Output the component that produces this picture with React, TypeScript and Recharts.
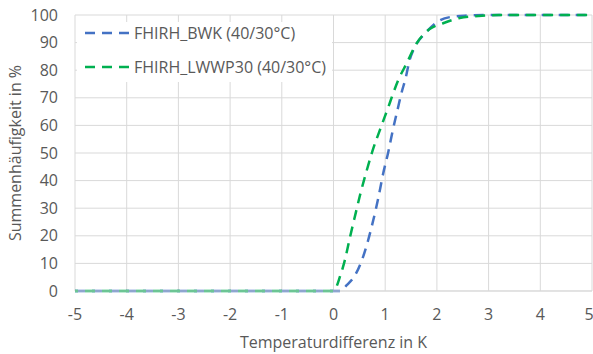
import React from 'react';
import { LineChart, Line, XAxis, YAxis, CartesianGrid, Legend } from 'recharts';

const blueX = [-5, 0, 0.13, 0.26, 0.42, 0.55, 0.67, 0.77, 0.87, 0.96, 1.06, 1.15, 1.25, 1.31, 1.4, 1.47, 1.57, 1.79, 2.05, 2.31, 2.6, 3, 5];
const blueY = [0, 0, 0, 2.2, 5.8, 11.2, 18.4, 25.7, 34, 42.5, 50.4, 58.5, 66.6, 71.4, 77.5, 83.5, 88.3, 93.7, 98, 99.4, 99.8, 100, 100];

const greenX = [-5, 0, 0.13, 0.22, 0.32, 0.42, 0.51, 0.64, 0.75, 0.93, 1.06, 1.15, 1.25, 1.41, 1.6, 1.86, 2.12, 2.44, 2.8, 3.2, 5];
const greenY = [0, 0, 5.5, 11.2, 19.6, 27.5, 34.5, 43.5, 50.5, 60, 66.6, 71.4, 76.3, 82.3, 89.5, 94.9, 97, 98.9, 99.6, 100, 100];

const xTicks = [-5, -4, -3, -2, -1, 0, 1, 2, 3, 4, 5];
const yTicks = [0, 10, 20, 30, 40, 50, 60, 70, 80, 90, 100];

const seriesNames = ['FHIRH_BWK (40/30°C)', 'FHIRH_LWWP30 (40/30°C)'];
const seriesColors = ['#4472C4', '#00B050'];

const blueData = blueX.map((x, i) => ({ x, y: blueY[i] }));
const greenData = greenX.map((x, i) => ({ x, y: greenY[i] }));

const FONT = '"Open Sans", sans-serif';
const FS = 16;
const TXT = '#595959';

const renderLegend = () => (
  <div style={{ position: 'relative', background: '#fff', width: 255, height: 60, fontFamily: FONT, fontSize: FS, color: TXT }}>
    {seriesNames.map((n, i) => (
      <div key={n} style={{ position: 'absolute', left: 0, top: i === 0 ? 0 : 34, height: 22, display: 'flex', alignItems: 'center', whiteSpace: 'nowrap' }}>
        <svg width={54} height={22} style={{ display: 'block' }}>
          <line x1={8} y1={11} x2={53} y2={11} stroke={seriesColors[i]} strokeWidth={2.5} strokeDasharray="10 7" />
        </svg>
        <span style={{ marginLeft: 3 }}>{n}</span>
      </div>
    ))}
  </div>
);

export default function App() {
  return (
    <div style={{ position: 'absolute', left: 0, top: 0, width: 593, height: 354, background: '#fff' }}>
      <LineChart width={593} height={354} margin={{ top: 15, right: 1, left: 0, bottom: 0 }}>
        <CartesianGrid stroke="#d9d9d9" strokeWidth={1} />
        <XAxis
          type="number"
          dataKey="x"
          domain={[-5, 5]}
          ticks={xTicks}
          allowDataOverflow
          height={63}
          tickLine={false}
          axisLine={{ stroke: '#d9d9d9' }}
          tickSize={0}
          tickMargin={18}
          tick={{ fill: TXT, fontSize: FS, fontFamily: FONT }}
          label={{ value: 'Temperaturdifferenz in K', position: 'insideBottom', offset: 6, fill: TXT, fontSize: FS, fontFamily: FONT }}
        />
        <YAxis
          type="number"
          domain={[0, 100]}
          ticks={yTicks}
          width={75}
          tickLine={false}
          axisLine={false}
          tickSize={0}
          tickMargin={17}
          tick={{ fill: TXT, fontSize: FS, fontFamily: FONT }}
          label={{ value: 'Summenhäufigkeit in %', angle: -90, position: 'insideLeft', offset: 15, fill: TXT, fontSize: FS, fontFamily: FONT, style: { textAnchor: 'middle' } }}
        />
        <Legend
          layout="vertical"
          align="center"
          verticalAlign="middle"
          content={renderLegend}
          wrapperStyle={{ left: 77, top: 22, width: 255, height: 60 }}
        />
        <Line data={blueData} dataKey="y" name={seriesNames[0]} type="monotone" stroke={seriesColors[0]} strokeWidth={2.5} strokeDasharray="10 7" dot={false} isAnimationActive={false} />
        <Line data={greenData} dataKey="y" name={seriesNames[1]} type="monotone" stroke={seriesColors[1]} strokeWidth={2.5} strokeDasharray="10 7" strokeDashoffset={7} dot={false} isAnimationActive={false} />
      </LineChart>
    </div>
  );
}
